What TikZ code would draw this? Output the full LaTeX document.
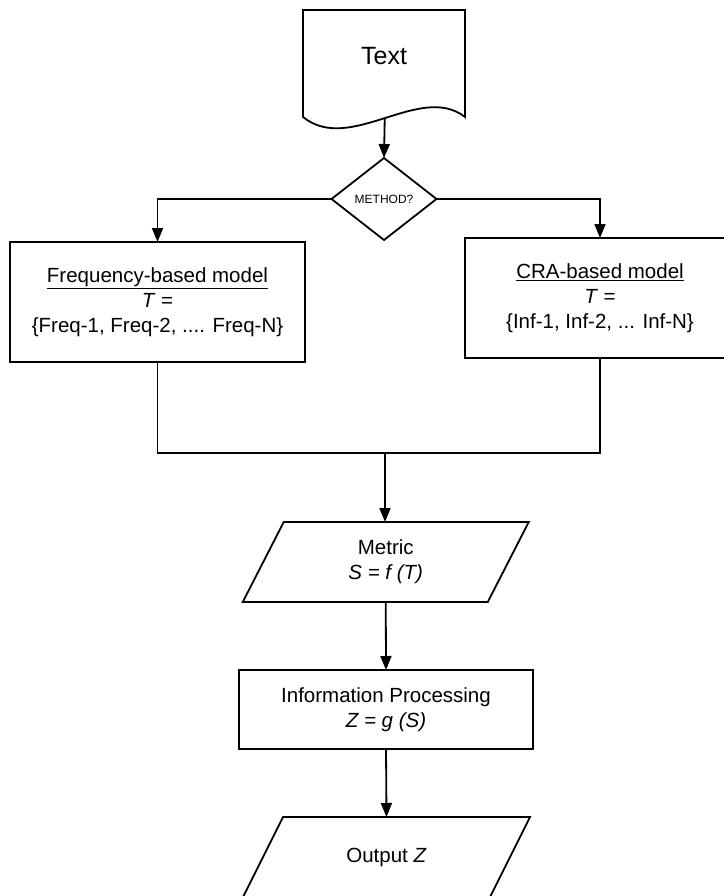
\documentclass[tikz,border=0pt]{standalone}
\usepackage{fontspec}
\setmainfont{Liberation Sans}
\usetikzlibrary{arrows.meta,shapes.geometric}

\tikzset{
  plain/.style={line width=1.8pt},
  flow/.style={plain,-{Triangle[length=14pt,width=11pt]}},
  box/.style={draw,plain,rectangle,inner sep=0pt,outer sep=0pt,align=center,
    font=\fontsize{20.5}{25}\selectfont},
  iobox/.style={inner sep=0pt,outer sep=0pt,minimum width=245pt,minimum height=80pt,
    align=center,font=\fontsize{20.5}{25}\selectfont},
}

\begin{document}
\begin{tikzpicture}[x=1pt,y=-1pt]
  \useasboundingbox (0,0) rectangle (723,896);
  % Text
  \draw[plain] (303,10) -- (465,10) -- (465,117)
    .. controls (420,82) and (350,155) .. (303,117) -- cycle;
  \node[font=\fontsize{25}{30}\selectfont] (doc) at (384,56) {Text};
  \coordinate (docb) at (384.75,118);
  % Method?
  \node[diamond,draw,plain,minimum width=105pt,minimum height=82pt,inner sep=0pt,
    outer sep=0pt,font=\fontsize{12}{14}\selectfont] (method) at (384,199) {METHOD?};
  \draw[flow] (docb) -- (method.north);
  % the two models
  \node[box,minimum width=295pt,minimum height=120pt] (freq) at (157.5,302)
    {\underline{Frequency-based model}\\\textit{T} =\\\{Freq-1, Freq-2, .... Freq-N\}};
  \node[box,minimum width=270pt,minimum height=120pt] (cra) at (600,298)
    {\underline{CRA-based model}\\\textit{T} =\\\{Inf-1, Inf-2, ... Inf-N\}};
  \draw[flow] (method.west) -| (freq.north);
  \draw[flow] (method.east) -| (cra.north);
  \coordinate (join) at (385,453);
  \draw[plain] (freq.south) |- (join) -| (cra.south);
  % Metric
  \node[iobox] (metric) at (385.75,562) {Metric\\\textit{S = f (T)}};
  \draw[plain] ([xshift=20.5pt]metric.north west) -- ([xshift=20.5pt]metric.north east)
    -- ([xshift=-20.5pt]metric.south east) -- ([xshift=-20.5pt]metric.south west) -- cycle;
  \draw[flow] (join) -- (join |- metric.north);
  % Information processing
  \node[box,minimum width=294pt,minimum height=79pt] (info) at (386,709.5)
    {Information Processing\\\textit{Z = g (S)}};
  \draw[flow] (metric.south) -- (info.north);
  % Output
  \node[iobox,minimum width=247pt] (output) at (386.5,857) {Output \textit{Z}};
  \draw[plain] ([xshift=20pt]output.north west) -- ([xshift=20pt]output.north east)
    -- ([xshift=-20pt]output.south east) -- ([xshift=-20pt]output.south west) -- cycle;
  \draw[flow] (info.south) -- (output.north);
\end{tikzpicture}
\end{document}
